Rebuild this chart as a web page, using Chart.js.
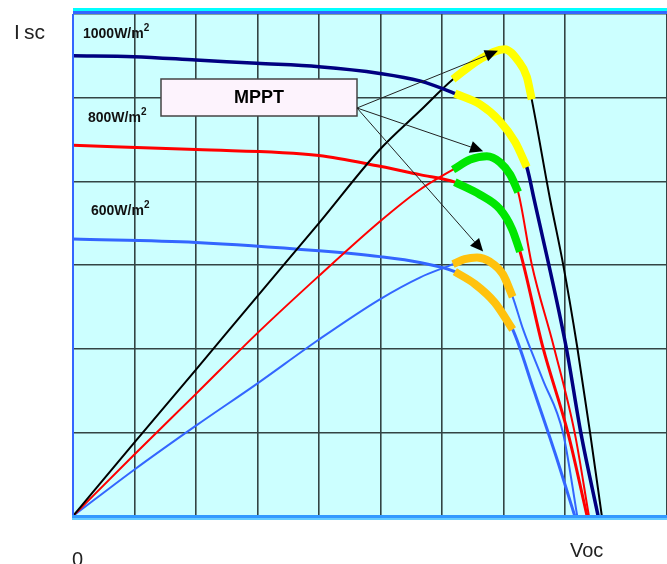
<!DOCTYPE html>
<html>
<head>
<meta charset="utf-8">
<script src="https://cdn.jsdelivr.net/npm/chart.js@4.4.0/dist/chart.umd.min.js"></script>
<style>
  html, body { margin: 0; padding: 0; background: #fff; overflow: hidden; }
  #wrap { position: relative; width: 667px; height: 564px; }
</style>
</head>
<body>
<div id="wrap"><canvas id="chart" width="667" height="564"></canvas></div>
<script>
// I-V and P-V curves of a PV module at three irradiance levels
// x = voltage (grid units), y = current / power (grid units)
var ivVolt1000 = [0, 0.99, 2.0, 2.99, 4.0, 4.99, 5.64, 6.21, 6.62, 6.94, 7.19, 7.38, 7.50, 8.02, 8.26, 8.54];
var ivCurr1000 = [5.50, 5.49, 5.45, 5.41, 5.37, 5.29, 5.20, 5.05, 4.92, 4.72, 4.47, 4.17, 3.78, 2.02, 0.99, 0];
var pvVolt1000 = [0, 0.99, 2.0, 2.99, 4.0, 4.99, 5.64, 6.18, 6.62, 7.02, 7.24, 7.38, 7.46, 7.76, 7.97, 8.20, 8.41, 8.60];
var pvPow1000  = [0, 0.87, 1.75, 2.62, 3.50, 4.38, 4.84, 5.22, 5.46, 5.58, 5.44, 5.25, 4.98, 3.78, 3.01, 2.02, 0.99, 0];

var ivVolt800 = [0, 2.0, 4.0, 4.99, 5.64, 6.21, 6.62, 6.94, 7.14, 7.27, 7.64, 8.05, 8.36];
var ivCurr800 = [4.43, 4.38, 4.31, 4.18, 4.08, 3.99, 3.84, 3.67, 3.43, 3.16, 2.02, 0.99, 0];
var pvVolt800 = [0, 0.99, 2.0, 2.99, 4.0, 4.99, 5.64, 6.18, 6.46, 6.73, 6.94, 7.11, 7.24, 7.46, 7.82, 8.16, 8.39];
var pvPow800  = [0, 0.73, 1.46, 2.18, 2.87, 3.52, 3.90, 4.14, 4.26, 4.30, 4.23, 4.08, 3.87, 3.01, 2.02, 0.99, 0];

var ivVolt600 = [0, 2.0, 4.0, 4.99, 5.64, 6.21, 6.54, 6.86, 7.15, 7.50, 7.84, 8.16];
var ivCurr600 = [3.31, 3.27, 3.17, 3.10, 3.03, 2.92, 2.77, 2.55, 2.23, 1.49, 0.75, 0];
var pvVolt600 = [0, 0.99, 2.0, 2.99, 4.0, 4.99, 5.64, 6.18, 6.37, 6.57, 6.78, 6.99, 7.15, 7.32, 7.64, 7.97, 8.20];
var pvPow600  = [0, 0.55, 1.08, 1.58, 2.11, 2.59, 2.85, 3.01, 3.07, 3.09, 3.04, 2.89, 2.62, 2.23, 1.63, 0.99, 0];

// index ranges of the MPPT search window on each curve [from, to]
var mpptIv1000 = [7, 11], mpptPv1000 = [7, 12];
var mpptIv800 = [5, 9],   mpptPv800 = [7, 12];
var mpptIv600 = [5, 8],   mpptPv600 = [7, 12];

var irradianceLabels = ['1000W/m', '800W/m', '600W/m'];
// arrow targets (peaks of the power curves)
var arrowTargets = [[6.91, 5.56], [6.67, 4.36], [6.67, 3.16]];

function toPoints(xs, ys) {
    var pts = [];
    for (var i = 0; i < xs.length; i++) pts.push({x: xs[i], y: ys[i]});
    return pts;
}
function part(xs, ys, range) {
    return toPoints(xs.slice(range[0], range[1] + 1), ys.slice(range[0], range[1] + 1));
}
function curve(data, color, width) {
    return {data: data, borderColor: color, borderWidth: width, pointRadius: 0,
            fill: false, cubicInterpolationMode: 'monotone', borderCapStyle: 'butt'};
}

var YELLOW = '#ffff00', GREEN = '#00e600', ORANGE = '#ffc20e';

var datasets = [
    // highlighted MPPT windows (first = drawn on top)
    curve(part(ivVolt1000, ivCurr1000, mpptIv1000), YELLOW, 8),
    curve(part(pvVolt1000, pvPow1000, mpptPv1000), YELLOW, 8),
    curve(part(ivVolt800, ivCurr800, mpptIv800), GREEN, 8),
    curve(part(pvVolt800, pvPow800, mpptPv800), GREEN, 8),
    curve(part(ivVolt600, ivCurr600, mpptIv600), ORANGE, 8),
    curve(part(pvVolt600, pvPow600, mpptPv600), ORANGE, 8),
    // full curves
    curve(toPoints(ivVolt1000, ivCurr1000), '#000080', 3.5),
    curve(toPoints(pvVolt1000, pvPow1000), '#000000', 2),
    curve(toPoints(ivVolt800, ivCurr800), '#ff0000', 3),
    curve(toPoints(pvVolt800, pvPow800), '#ff0000', 2),
    curve(toPoints(ivVolt600, ivCurr600), '#3366ff', 3),
    curve(toPoints(pvVolt600, pvPow600), '#3366ff', 2)
];

var decorPlugin = {
    id: 'decor',
    beforeDraw: function(chart) {
        var ctx = chart.ctx, a = chart.chartArea;
        ctx.save();
        ctx.fillStyle = '#ccffff';
        ctx.fillRect(a.left, a.top, a.right - a.left, a.bottom - a.top);
        ctx.restore();
    },
    afterDatasetsDraw: function(chart) {
        var ctx = chart.ctx, a = chart.chartArea;
        var xs = chart.scales.x, ys = chart.scales.y;
        ctx.save();
        // frame lines
        ctx.fillStyle = '#00ffff';
        ctx.fillRect(a.left, a.top - 6, a.right - a.left, 3);
        ctx.fillStyle = '#3366ff';
        ctx.fillRect(a.left, a.top - 3, a.right - a.left, 3);
        ctx.fillStyle = '#3366ff';
        ctx.fillRect(a.left - 1, a.top, 2, a.bottom - a.top);
        ctx.fillStyle = '#3399ff';
        ctx.fillRect(a.left - 1, a.bottom - 1, a.right - a.left + 1, 3);
        ctx.fillStyle = '#66ccff';
        ctx.fillRect(a.left - 1, a.bottom + 2, a.right - a.left + 1, 2);

        // irradiance labels
        ctx.fillStyle = '#111';
        ctx.textAlign = 'left';
        ctx.textBaseline = 'alphabetic';
        var labelPos = [[83, 38], [88, 122], [91, 215]];
        for (var i = 0; i < irradianceLabels.length; i++) {
            ctx.font = 'bold 14px "Liberation Sans", Arial, sans-serif';
            ctx.fillText(irradianceLabels[i], labelPos[i][0], labelPos[i][1]);
            var w = ctx.measureText(irradianceLabels[i]).width;
            ctx.font = 'bold 10px "Liberation Sans", Arial, sans-serif';
            ctx.fillText('2', labelPos[i][0] + w, labelPos[i][1] - 7);
        }

        // MPPT box
        var bx = 161, by = 79, bw = 196, bh = 37;
        ctx.fillStyle = '#fdf3fd';
        ctx.fillRect(bx, by, bw, bh);
        ctx.strokeStyle = '#444';
        ctx.lineWidth = 1.5;
        ctx.strokeRect(bx, by, bw, bh);
        ctx.fillStyle = '#000';
        ctx.font = 'bold 18px "Liberation Sans", Arial, sans-serif';
        ctx.textAlign = 'center';
        ctx.textBaseline = 'middle';
        ctx.fillText('MPPT', bx + bw / 2, by + bh / 2 + 1);

        // arrows from the box to the maximum power points
        var ox = 357, oy = 108;
        ctx.strokeStyle = '#222';
        ctx.fillStyle = '#000';
        ctx.lineWidth = 1;
        arrowTargets.forEach(function(t) {
            var tx = xs.getPixelForValue(t[0]), ty = ys.getPixelForValue(t[1]);
            var ang = Math.atan2(ty - oy, tx - ox);
            var hl = 13, hw = 6;
            var bx2 = tx - hl * Math.cos(ang), by2 = ty - hl * Math.sin(ang);
            ctx.beginPath();
            ctx.moveTo(ox, oy);
            ctx.lineTo(bx2, by2);
            ctx.stroke();
            ctx.beginPath();
            ctx.moveTo(tx, ty);
            ctx.lineTo(bx2 + hw * Math.sin(ang), by2 - hw * Math.cos(ang));
            ctx.lineTo(bx2 - hw * Math.sin(ang), by2 + hw * Math.cos(ang));
            ctx.closePath();
            ctx.fill();
        });

        // axis texts
        ctx.fillStyle = '#222';
        ctx.textAlign = 'left';
        ctx.textBaseline = 'alphabetic';
        ctx.font = '21px "Liberation Sans", Arial, sans-serif';
        ctx.fillText('I', 14, 39);
        ctx.fillText('sc', 24, 39);
        ctx.font = '20px "Liberation Sans", Arial, sans-serif';
        ctx.fillText('0', 72, 566);
        ctx.fillText('Voc', 570, 557);
        ctx.restore();
    }
};

var ctx = document.getElementById('chart').getContext('2d');
var chart = new Chart(ctx, {
    type: 'line',
    data: {datasets: datasets},
    options: {
        responsive: false,
        animation: false,
        devicePixelRatio: 1,
        layout: {padding: {left: 73, right: 0, top: 14, bottom: 44}},
        plugins: {legend: {display: false}, tooltip: {enabled: false}},
        scales: {
            x: {
                type: 'linear', min: 0, max: 9.66,
                ticks: {display: false, stepSize: 1},
                grid: {color: '#334444', lineWidth: 1.6, drawTicks: true, tickLength: 4},
                border: {display: false}
            },
            y: {
                type: 'linear', min: 0, max: 6,
                ticks: {display: false, stepSize: 1},
                grid: {color: '#334444', lineWidth: 1.6, drawTicks: false},
                border: {display: false}
            }
        }
    },
    plugins: [decorPlugin]
});
</script>
</body>
</html>
